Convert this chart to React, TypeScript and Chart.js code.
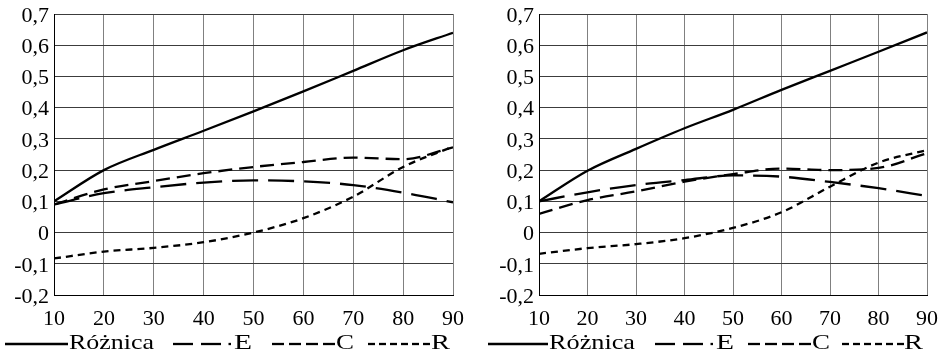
import React, { useEffect, useRef } from "react";
import { Chart, registerables } from "chart.js";

Chart.register(...registerables);

const FONT = '"Liberation Serif", "Times New Roman", serif';

// ---- data ----
const xValues = [10, 20, 30, 40, 50, 60, 70, 80, 90];

const leftRoznica = [0.1, 0.2, 0.265, 0.326, 0.388, 0.452, 0.518, 0.584, 0.64];
const leftE = [0.09, 0.126, 0.145, 0.16, 0.167, 0.164, 0.152, 0.128, 0.097];
const leftC = [0.09, 0.138, 0.165, 0.19, 0.21, 0.226, 0.24, 0.235, 0.273];
const leftR = [-0.083, -0.061, -0.049, -0.031, 0.0, 0.046, 0.115, 0.21, 0.275];

const rightRoznica = [0.1, 0.198, 0.268, 0.334, 0.393, 0.457, 0.518, 0.579, 0.641];
const rightE = [0.1, 0.129, 0.152, 0.168, 0.183, 0.179, 0.162, 0.142, 0.117];
const rightC = [0.06, 0.104, 0.132, 0.163, 0.187, 0.205, 0.2, 0.207, 0.254];
const rightR = [-0.068, -0.05, -0.037, -0.018, 0.015, 0.065, 0.147, 0.224, 0.264];

const seriesNames = ["Różnica", "E", "C", "R"];
const yMin = -0.2;
const yMax = 0.7;
const yStep = 0.1;
const xMin = 10;
const xMax = 90;
const xStep = 10;

// ---- styles ----
const dashes: number[][] = [[], [26, 10], [14, 7], [7, 5]];

function formatY(v: number): string {
  if (Math.abs(v) < 1e-9) return "0";
  return v.toFixed(1).replace(".", ",");
}

function buildConfig(series: number[][], padRight: number, canvasH: number) {
  return {
    type: "line" as const,
    data: {
      datasets: series.map((arr, i) => ({
        label: seriesNames[i],
        data: xValues.map((x, j) => ({ x, y: arr[j] })),
        borderColor: "#000",
        borderWidth: 2.3,
        borderDash: dashes[i],
        pointRadius: 0,
        fill: false,
        cubicInterpolationMode: "monotone" as const,
      })),
    },
    options: {
      animation: false as const,
      responsive: false,
      devicePixelRatio: 1,
      layout: { padding: { left: 0, top: 14, right: padRight, bottom: 0 } },
      plugins: { legend: { display: false }, tooltip: { enabled: false } },
      scales: {
        x: {
          type: "linear" as const,
          min: xMin,
          max: xMax,
          ticks: {
            stepSize: xStep,
            autoSkip: false,
            maxRotation: 0,
            color: "#000",
            padding: 11,
            font: { family: FONT, size: 22 },
          },
          grid: { color: "#808080", lineWidth: 1, drawTicks: false },
          border: { color: "#000", width: 1 },
          afterFit: (s: any) => {
            s.height = canvasH - 295;
            s.paddingLeft = 0;
            s.paddingRight = 0;
          },
        },
        y: {
          type: "linear" as const,
          min: yMin,
          max: yMax,
          ticks: {
            stepSize: yStep,
            color: "#000",
            padding: 5,
            labelOffset: 2,
            font: { family: FONT, size: 22 },
            callback: (v: any) => formatY(Number(v)),
          },
          grid: { color: "#3c3c3c", lineWidth: 1, drawTicks: false },
          border: { color: "#000", width: 1 },
          afterFit: (s: any) => {
            s.width = 54;
            s.paddingTop = 0;
            s.paddingBottom = 0;
          },
        },
      },
    },
  };
}

function LineChart(props: { left: number; width: number; height: number; padRight: number; series: number[][] }) {
  const ref = useRef<HTMLCanvasElement | null>(null);
  useEffect(() => {
    if (!ref.current) return;
    const chart = new Chart(ref.current, buildConfig(props.series, props.padRight, props.height) as any);
    return () => chart.destroy();
  }, []);
  return (
    <canvas
      ref={ref}
      width={props.width}
      height={props.height}
      style={{ position: "absolute", left: props.left, top: 0, width: props.width, height: props.height }}
    />
  );
}

type LegendLayout = {
  solid: [number, number];
  textR: number;
  textRW: number;
  eDash: [number, number][];
  eText: number;
  cStart: number;
  cText: number;
  rStart: number;
  rText: number;
};

function Legend({ l }: { l: LegendLayout }) {
  const y = 344;
  const base = 349;
  const sw = 2.3;
  const cd: [number, number][] = [];
  for (let i = 0; i < 4; i++) cd.push([l.cStart + i * 17, l.cStart + i * 17 + 12]);
  const rd: [number, number][] = [];
  for (let i = 0; i < 6; i++) rd.push([l.rStart + i * 11, l.rStart + i * 11 + 7]);
  const txt = { fontFamily: FONT, fontSize: 21, fill: "#000" } as any;
  return (
    <g>
      <line x1={l.solid[0]} x2={l.solid[1]} y1={y} y2={y} stroke="#000" strokeWidth={sw} />
      <text x={l.textR} y={base} style={txt} textLength={l.textRW} lengthAdjust="spacingAndGlyphs">
        {seriesNames[0]}
      </text>
      {l.eDash.map((d, i) => (
        <line key={"e" + i} x1={d[0]} x2={d[1]} y1={y} y2={y} stroke="#000" strokeWidth={sw} />
      ))}
      <text x={l.eText} y={base} style={txt} textLength={18} lengthAdjust="spacingAndGlyphs">
        {seriesNames[1]}
      </text>
      {cd.map((d, i) => (
        <line key={"c" + i} x1={d[0]} x2={d[1]} y1={y} y2={y} stroke="#000" strokeWidth={sw} />
      ))}
      <text x={l.cText} y={base} style={txt} textLength={18} lengthAdjust="spacingAndGlyphs">
        {seriesNames[2]}
      </text>
      {rd.map((d, i) => (
        <line key={"r" + i} x1={d[0]} x2={d[1]} y1={y} y2={y} stroke="#000" strokeWidth={sw} />
      ))}
      <text x={l.rText} y={base} style={txt} textLength={19} lengthAdjust="spacingAndGlyphs">
        {seriesNames[3]}
      </text>
    </g>
  );
}

const leftLegend: LegendLayout = {
  solid: [5, 68],
  textR: 69,
  textRW: 85,
  eDash: [[173, 193], [201, 221], [228.5, 231]],
  eText: 234,
  cStart: 272,
  cText: 336,
  rStart: 368,
  rText: 431,
};

const rightLegend: LegendLayout = {
  solid: [488, 548],
  textR: 549,
  textRW: 86,
  eDash: [[655, 675], [683, 703], [710.5, 713]],
  eText: 716,
  cStart: 748,
  cText: 812,
  rStart: 842,
  rText: 904,
};

export default function App() {
  const H = 332;
  return (
    <div style={{ position: "absolute", left: 0, top: 0, width: 939, height: 363, background: "#fff", overflow: "hidden" }}>
      <LineChart left={0} width={470} height={H} padRight={17} series={[leftRoznica, leftE, leftC, leftR]} />
      <LineChart left={485} width={454} height={H} padRight={12} series={[rightRoznica, rightE, rightC, rightR]} />
      <svg width={939} height={363} style={{ position: "absolute", left: 0, top: 0 }}>
        <Legend l={leftLegend} />
        <Legend l={rightLegend} />
      </svg>
    </div>
  );
}
